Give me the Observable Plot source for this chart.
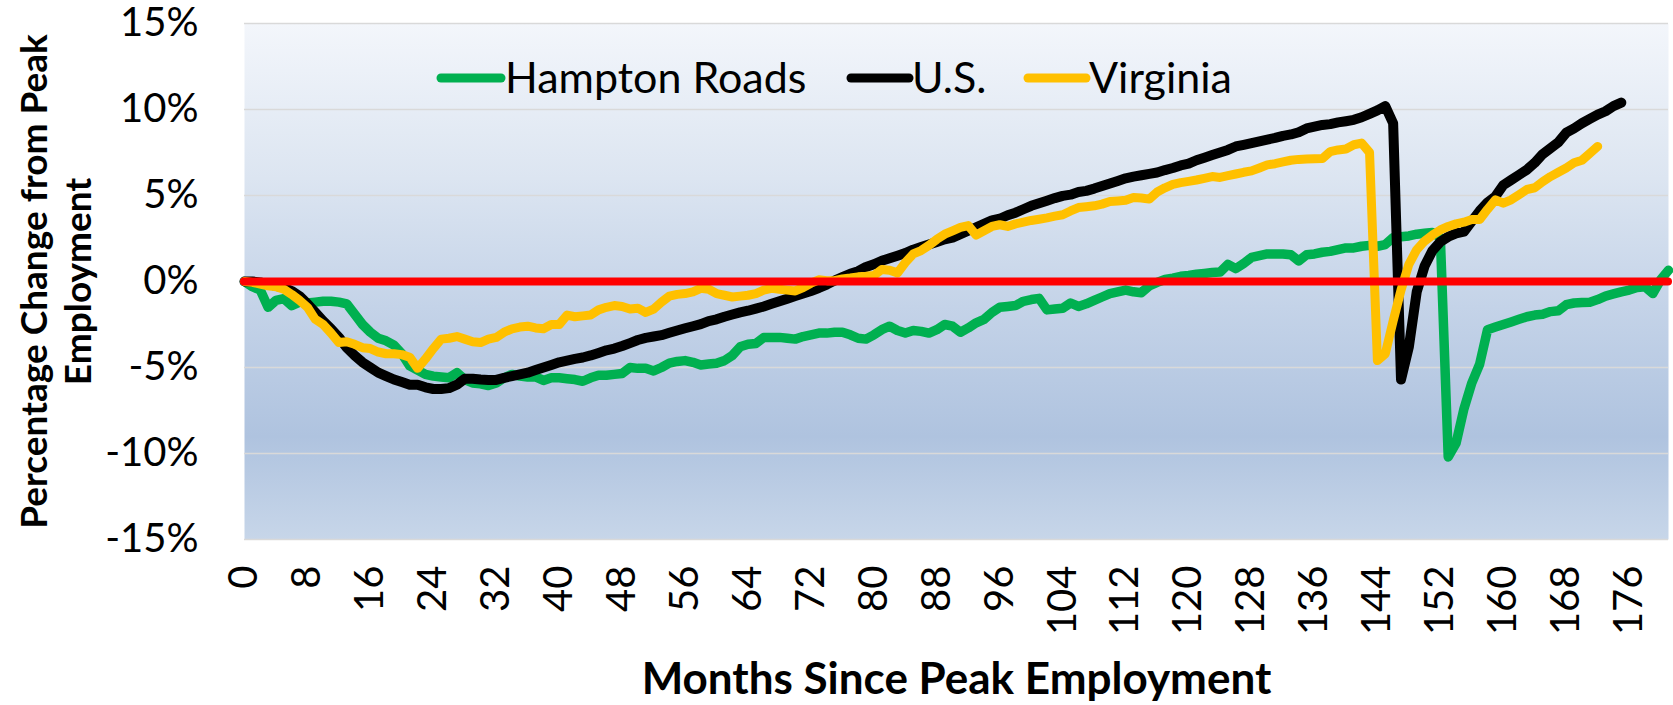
<!DOCTYPE html>
<html><head><meta charset="utf-8">
<script src="https://cdn.jsdelivr.net/npm/d3@7"></script>
<script src="https://cdn.jsdelivr.net/npm/@observablehq/plot@0.6"></script>
<style>
html,body{margin:0;padding:0;background:#fff;}
#chart{position:relative;width:1673px;height:705px;}
svg{font-family:Lato,"Open Sans",sans-serif;}
</style></head><body><div id="chart"></div>
<script>
const seriesNames = ["Hampton Roads", "U.S.", "Virginia"];
const seriesColors = ["#00b050", "#000000", "#ffc000"];
const zeroColor = "#ff0000";
const xTicks = [0, 8, 16, 24, 32, 40, 48, 56, 64, 72, 80, 88, 96, 104, 112, 120, 128, 136, 144, 152, 160, 168, 176];
const yTicks = [-15, -10, -5, 0, 5, 10, 15];
const xTitle = "Months Since Peak Employment";
const yTitle = "Percentage Change from Peak\nEmployment";

// months 0..181
const hamptonRoads = [
 0, -0.3, -0.5, -1.5, -1.1, -1.0, -1.4, -1.2, -1.25, -1.2,
 -1.15, -1.15, -1.2, -1.3, -1.9, -2.5, -2.95, -3.3, -3.45, -3.7,
 -4.2, -4.9, -5.15, -5.4, -5.5, -5.55, -5.6, -5.3, -5.7, -5.9,
 -5.95, -6.05, -5.9, -5.6, -5.4, -5.5, -5.55, -5.55, -5.75, -5.6,
 -5.6, -5.65, -5.7, -5.8, -5.6, -5.45, -5.45, -5.4, -5.35, -5.0,
 -5.05, -5.05, -5.2, -5.0, -4.75, -4.65, -4.6, -4.7, -4.85, -4.8,
 -4.75, -4.6, -4.3, -3.8, -3.65, -3.6, -3.25, -3.25, -3.25, -3.3,
 -3.35, -3.2, -3.1, -3.0, -3.0, -2.95, -2.95, -3.1, -3.3, -3.35,
 -3.1, -2.8, -2.6, -2.85, -3.0, -2.85, -2.9, -3.0, -2.8, -2.5,
 -2.6, -2.95, -2.7, -2.4, -2.2, -1.8, -1.5, -1.45, -1.4, -1.15,
 -1.05, -0.98, -1.65, -1.6, -1.55, -1.25, -1.45, -1.3, -1.1, -0.9,
 -0.7, -0.6, -0.5, -0.6, -0.65, -0.25, -0.05, 0.12, 0.2, 0.3,
 0.35, 0.42, 0.47, 0.52, 0.55, 1.0, 0.75, 1.05, 1.4, 1.5,
 1.6, 1.6, 1.6, 1.55, 1.2, 1.55, 1.6, 1.7, 1.75, 1.85,
 1.95, 1.95, 2.05, 2.1, 2.05, 2.15, 2.55, 2.6, 2.65, 2.75,
 2.8, 2.85, 2.55, -10.2, -9.4, -7.4, -5.9, -4.8, -2.8, -2.65,
 -2.5, -2.35, -2.2, -2.05, -1.95, -1.9, -1.75, -1.7, -1.35, -1.25,
 -1.22, -1.2, -1.05, -0.85, -0.72, -0.6, -0.5, -0.35, -0.3, -0.7,
 0.1, 0.65
];
// months 0..175
const us = [
 0, 0, -0.05, -0.15, -0.25, -0.35, -0.55, -0.85, -1.3, -1.8,
 -2.3, -2.75, -3.25, -3.85, -4.3, -4.7, -5.0, -5.3, -5.5, -5.7,
 -5.85, -6.0, -6.0, -6.15, -6.25, -6.25, -6.2, -6.0, -5.65, -5.65,
 -5.7, -5.72, -5.72, -5.6, -5.5, -5.4, -5.3, -5.15, -5.0, -4.85,
 -4.7, -4.6, -4.5, -4.42, -4.3, -4.15, -4.0, -3.9, -3.75, -3.58,
 -3.4, -3.28, -3.2, -3.12, -2.98, -2.85, -2.72, -2.6, -2.48, -2.3,
 -2.2, -2.05, -1.92, -1.8, -1.7, -1.58, -1.45, -1.3, -1.15, -1.0,
 -0.85, -0.7, -0.55, -0.38, -0.18, 0.05, 0.25, 0.45, 0.6, 0.85,
 1.0, 1.2, 1.35, 1.5, 1.65, 1.85, 2.0, 2.15, 2.3, 2.45,
 2.55, 2.75, 2.95, 3.15, 3.35, 3.55, 3.65, 3.85, 4.0, 4.2,
 4.4, 4.55, 4.7, 4.85, 4.98, 5.05, 5.2, 5.27, 5.4, 5.55,
 5.7, 5.85, 6.0, 6.1, 6.18, 6.26, 6.34, 6.48, 6.6, 6.75,
 6.85, 7.05, 7.2, 7.35, 7.5, 7.65, 7.85, 7.95, 8.05, 8.15,
 8.25, 8.35, 8.47, 8.55, 8.68, 8.9, 9.0, 9.1, 9.15, 9.25,
 9.32, 9.4, 9.55, 9.75, 9.95, 10.2, 9.2, -5.7, -3.8, -0.6,
 0.9, 1.8, 2.3, 2.6, 2.8, 2.9, 3.5, 4.1, 4.6, 4.95,
 5.6, 5.9, 6.2, 6.5, 6.9, 7.4, 7.75, 8.1, 8.65, 8.9,
 9.2, 9.45, 9.7, 9.9, 10.2, 10.4
];
// months 0..172
const virginia = [
 0, -0.05, -0.15, -0.25, -0.3, -0.45, -0.75, -1.1, -1.5, -2.2,
 -2.5, -3.0, -3.55, -3.5, -3.65, -3.85, -3.9, -4.1, -4.2, -4.2,
 -4.25, -4.4, -5.05, -4.5, -3.9, -3.35, -3.3, -3.2, -3.35, -3.5,
 -3.55, -3.35, -3.25, -2.95, -2.75, -2.65, -2.6, -2.7, -2.75, -2.5,
 -2.5, -1.95, -2.05, -2.0, -1.95, -1.65, -1.5, -1.4, -1.45, -1.6,
 -1.55, -1.8, -1.6, -1.2, -0.85, -0.75, -0.7, -0.6, -0.4, -0.45,
 -0.7, -0.8, -0.9, -0.85, -0.8, -0.7, -0.5, -0.4, -0.45, -0.5,
 -0.55, -0.35, -0.1, 0.1, 0.05, 0.05, 0.15, 0.2, 0.27, 0.3,
 0.35, 0.7, 0.65, 0.5, 1.1, 1.6, 1.8, 2.1, 2.45, 2.75,
 2.95, 3.15, 3.25, 2.7, 2.95, 3.2, 3.3, 3.2, 3.35, 3.45,
 3.55, 3.62, 3.7, 3.8, 3.88, 4.1, 4.3, 4.35, 4.4, 4.5,
 4.65, 4.68, 4.72, 4.88, 4.85, 4.79, 5.2, 5.45, 5.65, 5.75,
 5.82, 5.9, 6.0, 6.1, 6.05, 6.15, 6.25, 6.35, 6.43, 6.6,
 6.78, 6.85, 6.95, 7.05, 7.1, 7.12, 7.13, 7.15, 7.55, 7.65,
 7.7, 7.95, 8.05, 7.5, -4.6, -4.2, -2.3, -0.5, 1.0, 1.85,
 2.35, 2.7, 3.0, 3.2, 3.35, 3.45, 3.6, 3.6, 4.2, 4.75,
 4.55, 4.75, 5.05, 5.35, 5.45, 5.8, 6.1, 6.35, 6.6, 6.9,
 7.05, 7.45, 7.85
];

const seriesValues = [hamptonRoads, us, virginia];
const rows = seriesValues.map((vals, k) => vals.map((v, i) => ({series: seriesNames[k], month: i, value: v})));
const allMonths = hamptonRoads.map((_, i) => i);
const lastMonth = allMonths[allMonths.length - 1];

const W = 1673, H = 705;
const mL = 244, mR = 5, mT = 23, mB = 166;

const plot = Plot.plot({
  width: W, height: H,
  marginLeft: mL, marginRight: mR, marginTop: mT, marginBottom: mB,
  style: {fontFamily: "Lato, sans-serif", color: "#000", background: "transparent", overflow: "visible"},
  x: {type: "linear", domain: [allMonths[0], lastMonth]},
  y: {domain: [yTicks[0], yTicks[yTicks.length - 1]]},
  marks: [
    Plot.frame({fill: "url(#plotbg)", stroke: null}),
    Plot.gridY(yTicks, {stroke: "#d9d9d9", strokeOpacity: 1, strokeWidth: 1.5}),
    Plot.line(rows[0], {x: "month", y: "value", stroke: seriesColors[0], strokeWidth: 9.5, strokeLinejoin: "round", strokeLinecap: "round"}),
    Plot.line(rows[1], {x: "month", y: "value", stroke: seriesColors[1], strokeWidth: 10, strokeLinejoin: "round", strokeLinecap: "round"}),
    Plot.line(rows[2], {x: "month", y: "value", stroke: seriesColors[2], strokeWidth: 9, strokeLinejoin: "round", strokeLinecap: "round"}),
    Plot.ruleY([0], {x1: allMonths[0], x2: lastMonth, stroke: zeroColor, strokeWidth: 8, strokeLinecap: "round"}),
    Plot.axisY(yTicks, {tickSize: 0, tickPadding: 46, fontSize: 40, tickFormat: d => `${d}%`, label: null}),
    Plot.axisX(xTicks, {tickSize: 0, tickPadding: 26, tickRotate: -90, fontSize: 40, label: null}),
    Plot.text([yTitle], {frameAnchor: "left", dx: -190, rotate: -90, fontSize: 37, fontWeight: "bold", lineHeight: 1.2, lineAnchor: "middle", textAnchor: "middle", fill: "#000"}),
    Plot.text([xTitle], {frameAnchor: "bottom", dy: 140, fontSize: 44, fontWeight: "bold", lineAnchor: "middle", textAnchor: "middle", fill: "#000"})
  ]
});

// background gradient of the plot area
const svg = d3.select(plot);
const defs = svg.insert("defs", ":first-child");
const grad = defs.append("linearGradient").attr("id", "plotbg").attr("x1", 0).attr("y1", 0).attr("x2", 0).attr("y2", 1);
[[0, "#f3f6fb"], [0.3, "#dce5f1"], [0.55, "#c4d3e8"], [0.8, "#afc3df"], [1, "#c7d6e9"]]
  .forEach(([o, c]) => grad.append("stop").attr("offset", o).attr("stop-color", c));

// legend inside the plot area
const legendPos = [[441, 501, 505], [851, 909, 912], [1028, 1086, 1089]];
const lg = svg.append("g").attr("font-family", "Lato, sans-serif").attr("font-size", 43).attr("text-anchor", "start");
seriesNames.forEach((name, k) => {
  const [a, b, t] = legendPos[k];
  lg.append("line").attr("x1", a).attr("x2", b).attr("y1", 78).attr("y2", 78)
    .attr("stroke", seriesColors[k]).attr("stroke-width", 9).attr("stroke-linecap", "round");
  lg.append("text").attr("x", t).attr("y", 78).attr("dy", "0.35em").attr("fill", "#000").attr("text-anchor", "start").text(name);
});

document.getElementById("chart").appendChild(plot);
</script>
</body></html>
